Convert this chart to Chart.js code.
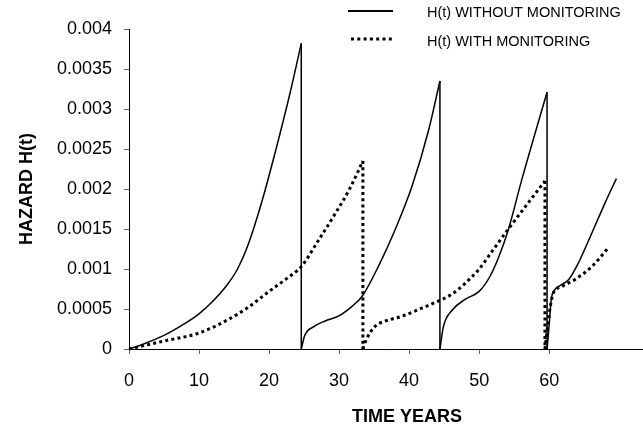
<!DOCTYPE html>
<html>
<head>
<meta charset="utf-8">
<script src="https://cdn.jsdelivr.net/npm/chart.js@4.4.0/dist/chart.umd.min.js"></script>
<style>
  html, body { margin: 0; padding: 0; background: #fff; overflow: hidden; }
</style>
</head>
<body>
<canvas id="chart" width="643" height="432"></canvas>
<script>
const FONT = "Arial, 'Liberation Sans', sans-serif";

// null marks a renewal (hazard drops back to zero)
const timeWithout = [
  0, 2, 5, 8, 10, 12, 14, 15.5, 17, 19, 21, 23, 24.6, null,
  24.6, 25.1, 26.4, 28, 29.9, 31.8, 33.3, 35.6, 38, 40.4, 42.8, 44.4, null,
  44.4, 44.9, 46.2, 48, 50, 51.5, 52.8, 54.2, 56.1, 58, 59.7, null,
  59.7, 60.0, 60.3, 60.8, 61.5, 62.8, 64.2, 66.1, 68, 69.6,
];
const hazardWithout = [
  0, 0.00006, 0.00017, 0.00032, 0.00044, 0.0006, 0.0008, 0.001, 0.0013, 0.00185, 0.0025, 0.0032, 0.00382, null,
  0, 0.00017, 0.00028, 0.00035, 0.00041, 0.00053, 0.00066, 0.00103, 0.00149, 0.00203, 0.00274, 0.00335, null,
  0, 0.00028, 0.00049, 0.00062, 0.00072, 0.0009, 0.00115, 0.0015, 0.00212, 0.0027, 0.00321, null,
  0, 0.0003, 0.00062, 0.00074, 0.00079, 0.00087, 0.00108, 0.00145, 0.00183, 0.00213,
];

const timeWith = [
  0, 5, 10, 14, 17, 20, 22.5, 24.6, 27, 29.5, 31.5, 33.4, null,
  33.4, 33.9, 35.1, 36.6, 39, 41.8, 44.2, 46, 48, 50, 52, 54, 56.6, 59.4, null,
  59.4, 59.8, 60.2, 60.6, 61.8, 63.7, 66.1, 68.4,
];
const hazardWith = [
  0, 0.0001, 0.0002, 0.00036, 0.00052, 0.00072, 0.00088, 0.00103, 0.00135, 0.0017, 0.002, 0.00235, null,
  0, 0.00012, 0.00028, 0.00035, 0.00041, 0.00051, 0.0006, 0.00068, 0.00082, 0.001, 0.00124, 0.00148, 0.00178, 0.0021, null,
  0, 0.0003, 0.00055, 0.0007, 0.00078, 0.00087, 0.00103, 0.00126,
];

const legendLabels = ["H(t) WITHOUT MONITORING", "H(t) WITH MONITORING"];
const xTitle = "TIME YEARS";
const yTitle = "HAZARD H(t)";

const solidStyle = { borderColor: "#000", borderWidth: 1.5, borderDash: [] };
const dottedStyle = { borderColor: "#000", borderWidth: 3, borderDash: [3, 3.2] };

function splitCycles(ts, hs) {
  const cycles = [[]];
  ts.forEach((t, i) => {
    if (t === null) cycles.push([]);
    else cycles[cycles.length - 1].push({ x: t, y: hs[i] });
  });
  return cycles;
}

function buildDatasets(ts, hs, style) {
  const cycles = splitCycles(ts, hs);
  const sets = [];
  cycles.forEach((pts, i) => {
    sets.push({ data: pts, cubicInterpolationMode: "monotone", ...style });
    const next = cycles[i + 1];
    if (next) {
      const last = pts[pts.length - 1];
      // vertical drop at renewal
      sets.push({
        data: [last, { x: last.x, y: next[0].y }],
        tension: 0,
        ...style,
      });
    }
  });
  return sets;
}

const datasets = [
  ...buildDatasets(timeWith, hazardWith, dottedStyle),
  ...buildDatasets(timeWithout, hazardWithout, solidStyle),
].map((d) => ({ ...d, pointRadius: 0, fill: false, clip: false }));

const overlay = {
  id: "overlay",
  afterDraw(chart) {
    const ctx = chart.ctx;
    ctx.save();
    ctx.strokeStyle = "#000";
    ctx.fillStyle = "#000";
    ctx.lineWidth = 2;
    ctx.setLineDash([]);
    ctx.beginPath();
    ctx.moveTo(348, 11);
    ctx.lineTo(393, 11);
    ctx.stroke();
    ctx.lineWidth = 3;
    ctx.setLineDash([3, 3.3]);
    ctx.beginPath();
    ctx.moveTo(351, 39);
    ctx.lineTo(394, 39);
    ctx.stroke();
    ctx.setLineDash([]);
    ctx.font = "14.5px " + FONT;
    ctx.textBaseline = "middle";
    ctx.textAlign = "left";
    ctx.fillText(legendLabels[0], 427, 13);
    ctx.fillText(legendLabels[1], 427, 42);
    ctx.font = "bold 18px " + FONT;
    ctx.textAlign = "center";
    ctx.fillText(xTitle, 407, 417);
    ctx.restore();
  },
};

new Chart(document.getElementById("chart"), {
  type: "line",
  data: { datasets },
  plugins: [overlay],
  options: {
    responsive: false,
    animation: false,
    devicePixelRatio: 1,
    layout: { padding: { top: 29, right: 0, bottom: 0, left: 0 } },
    plugins: { legend: { display: false }, tooltip: { enabled: false } },
    scales: {
      x: {
        type: "linear",
        min: 0,
        max: 73.4,
        afterBuildTicks: (s) => {
          s.ticks = s.ticks.filter((t) => t.value % 10 === 0 && t.value <= 70);
        },
        afterFit: (s) => { s.height = 83; },
        ticks: {
          stepSize: 10,
          color: "#000",
          padding: 16,
          maxRotation: 0,
          font: { family: FONT, size: 18 },
        },
        grid: { drawOnChartArea: false, tickLength: 5, color: "#666" },
        border: { color: "#000", width: 1 },
      },
      y: {
        min: 0,
        max: 0.004,
        afterFit: (s) => { s.width = 129; },
        ticks: {
          stepSize: 0.0005,
          color: "#000",
          padding: 12,
          font: { family: FONT, size: 18 },
          callback: (v) => String(Number(Number(v).toFixed(4))),
        },
        title: {
          display: true,
          text: yTitle,
          color: "#000",
          padding: { top: 16 },
          font: { family: FONT, size: 18, weight: "bold" },
        },
        grid: { drawOnChartArea: false, tickLength: 5, color: "#666" },
        border: { color: "#000", width: 1 },
      },
    },
  },
});
</script>
</body>
</html>
